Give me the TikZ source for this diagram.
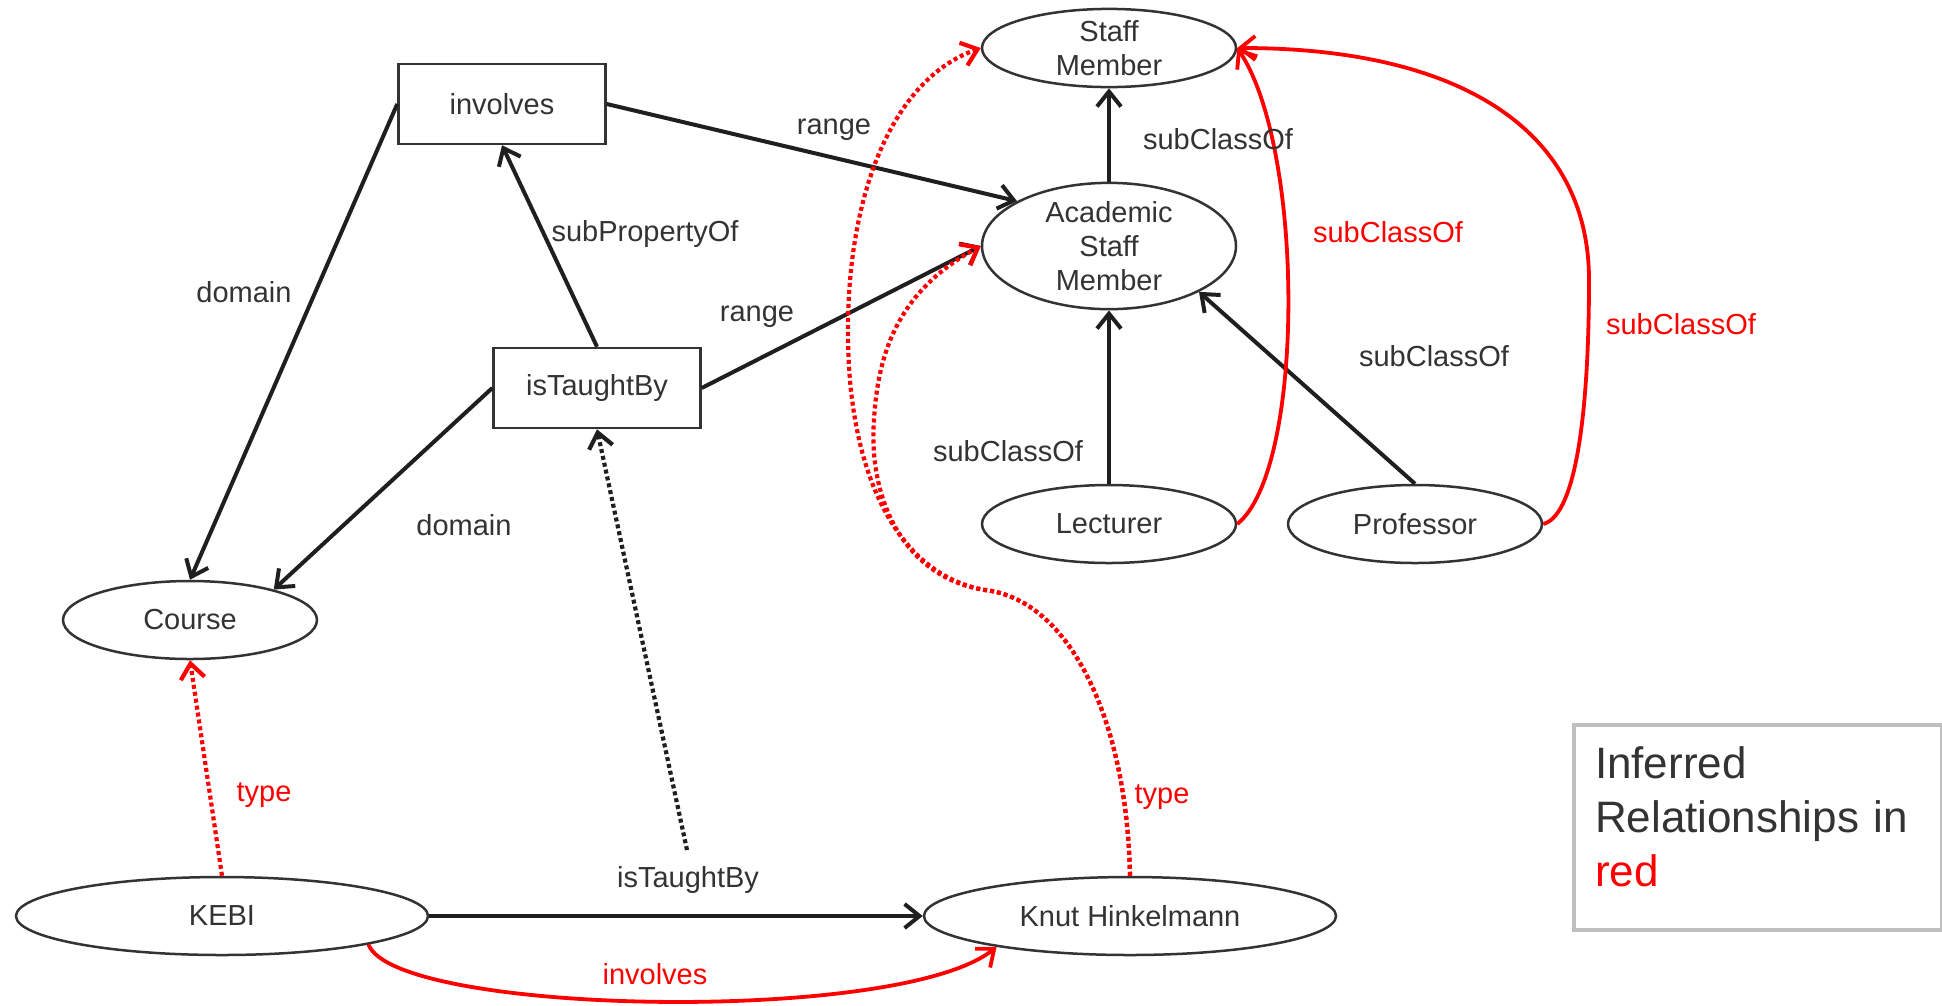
\documentclass[tikz,border=0pt]{standalone}
\usepackage{fontspec}
\setmainfont{Liberation Sans}
\usepackage{tikz}
\usetikzlibrary{shapes.geometric}
\usetikzlibrary{arrows.meta}

\definecolor{ink}{HTML}{333333}
\definecolor{framegray}{HTML}{BFBFBF}

\begin{document}
\begin{tikzpicture}[%
		x=1pt, y=-1pt,
		font=\fontsize{29}{34}\selectfont, text=ink,
		>={Straight Barb[length=15pt,width=24pt]},
		class/.style={draw=ink, line width=2.5pt, ellipse, inner sep=0pt,
			minimum width=254pt, minimum height=78pt, align=center},
		prop/.style={draw=ink, line width=2.5pt, rectangle, inner sep=0pt,
			minimum width=207pt, minimum height=80pt},
		rel/.style={->, line width=4pt, draw=black!88},
		infer/.style={->, line width=3.8pt, draw=red},
		dots/.style={line width=4.2pt, dash pattern=on 4pt off 3pt},
		lbl/.style={inner sep=0pt},
		redlbl/.style={inner sep=0pt, text=red}]
	\useasboundingbox (0,0) rectangle (1942,1005);

	% classes and properties
	\node[class] (staff) at (1109,48) {Staff\\Member};
	\node[class, minimum height=126pt] (acad) at (1109,246) {Academic\\Staff\\Member};
	\node[class] (lect) at (1109,524) {Lecturer};
	\node[class] (prof) at (1415,524) {Professor};
	\node[prop] (involves) at (502,104) {involves};
	\node[prop] (taught) at (597,388) {isTaughtBy};
	\node[class] (course) at (190,620) {Course};
	\node[class, minimum width=412pt] (kebi) at (222,916) {KEBI};
	\node[class, minimum width=412pt] (knut) at (1130,916) {Knut Hinkelmann};
	\coordinate (dotend) at (687,850);
	\coordinate (split) at (985,590);

	% schema
	\draw[rel] (acad) -- (staff);
	\draw[rel] (lect) -- (acad);
	\draw[rel] (prof.north) -- (acad.-27);
	\draw[rel] (involves.east) -- (acad.154);
	\draw[rel] (involves.west) -- (course.north);
	\draw[rel] (taught.north) -- (involves.south);
	\draw[rel] (taught.east) -- (acad.west);
	\draw[rel] (taught.west) -- (course.20);
	\draw[rel] (kebi) -- (knut);
	\draw[rel, dots] (dotend) -- (taught.south);

	% inferred
	\draw[infer, dots] (kebi.north) -- (course.south);
	\draw[infer] (kebi.-11) .. controls (395,1015) and (900,1025) .. (knut.193);
	\draw[infer] (lect.east) .. controls (1305,470) and (1305,150) .. (staff.east);
	\draw[infer] (prof.east) .. controls (1578,515) and (1589,400) .. (1589,280)
		.. controls (1589,130) and (1460,48) .. (staff.east);
	\draw[infer, dots] (knut.north) .. controls (1127,720) and (1070,600) .. (split)
		.. controls (900,575) and (850,480) .. (848,340)
		.. controls (846,200) and (890,80) .. (staff.west);
	\draw[infer, dots] (knut.north) .. controls (1127,720) and (1070,600) .. (split)
		.. controls (905,578) and (868,500) .. (874,420)
		.. controls (878,350) and (900,290) .. (acad.west);

	% labels
	\node[lbl] (l1) at (834,130) {range};
	\node[lbl] (l2) at (1218,139) {subClassOf};
	\node[lbl] (l3) at (645,234) {subPropertyOf};
	\node[lbl] (l4) at (244,292) {domain};
	\node[lbl] (l5) at (757,317) {range};
	\node[lbl] (l6) at (1434,356) {subClassOf};
	\node[lbl] (l7) at (1008,451) {subClassOf};
	\node[lbl] (l8) at (464,525) {domain};
	\node[lbl] (l9) at (688,880) {isTaughtBy};
	\node[redlbl] (r1) at (1388,232) {subClassOf};
	\node[redlbl] (r2) at (1681,324) {subClassOf};
	\node[redlbl] (r3) at (264,795) {type};
	\node[redlbl] (r4) at (1162,797) {type};
	\node[redlbl] (r5) at (655,974) {involves};

	% legend
	\node[draw=framegray, line width=4pt, anchor=north west, align=left,
		text width=326pt, inner xsep=21pt, inner ysep=22pt,
		font=\fontsize{44}{54}\selectfont] (legend) at (1572,723)
		{Inferred\\Relationships in\\\textcolor{red}{red}\rule[-21pt]{0pt}{0pt}};
\end{tikzpicture}
\end{document}
